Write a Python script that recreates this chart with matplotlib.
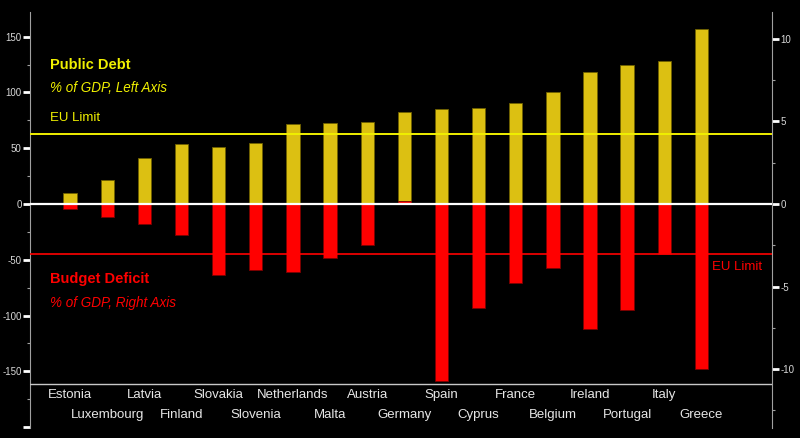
"""
Euro area public debt vs budget deficit, 2012-style black chart
"""

import numpy as np
import matplotlib.pyplot as plt
from matplotlib.ticker import MultipleLocator, FuncFormatter

plt.rcParams['axes.unicode_minus'] = False

# ---------------------------------------------------------------------------- #
# Data
# ---------------------------------------------------------------------------- #
countries = ['Estonia', 'Luxembourg', 'Latvia', 'Finland', 'Slovakia',
             'Slovenia', 'Netherlands', 'Malta', 'Austria', 'Germany',
             'Spain', 'Cyprus', 'France', 'Belgium', 'Ireland', 'Portugal',
             'Italy', 'Greece']
debt = [10.1, 21.2, 40.9, 53.4, 51.3, 54.6, 71.6, 72.5, 73.7, 82.4,
        84.8, 86.2, 90.7, 100.3, 118.2, 124.2, 127.8, 157.0]
deficit = [-0.3, -0.8, -1.2, -1.9, -4.3, -4.0, -4.1, -3.3, -2.5, 0.2,
           -10.7, -6.3, -4.8, -3.9, -7.6, -6.4, -3.0, -10.0]
debt_limit = 63.0
deficit_limit = -3.0

# ---------------------------------------------------------------------------- #
# Style options
# ---------------------------------------------------------------------------- #
bg = 'black'
yellow_bar = '#dcc012'
yellow_txt = '#f0f000'
red = '#ff0000'
grey = '#c8c8c8'
font = 'Liberation Sans'

left_lims = (-200.8, 172.1)
scale = 14.8  # left units per right unit
right_lims = (left_lims[0] / scale, left_lims[1] / scale)

fig = plt.figure(figsize=(8, 4.38), dpi=100, facecolor=bg)
ax = fig.add_axes([0.0375, 0.0228, 0.9275, 0.9498])
ax2 = ax.twinx()
for a in (ax, ax2):
    a.set_facecolor('none')
    for s in ['top', 'bottom']:
        a.spines[s].set_visible(False)
    a.spines['left'].set_color('#a0a0a0')
    a.spines['right'].set_color('#a0a0a0')
    a.spines['left'].set_visible(a is ax)
    a.spines['right'].set_visible(a is ax2)
ax.set_facecolor(bg)

x = np.arange(len(countries))
width = 0.36

ax.bar(x, debt, width, color=yellow_bar, edgecolor='#6e6000', linewidth=0.6, zorder=1)
ax2.bar(x, deficit, width, color=red, edgecolor='#7a0000', linewidth=0.6, zorder=2)

ax.set_xlim(-1.08, 18.9)
ax.set_ylim(*left_lims)
ax2.set_ylim(*right_lims)

# horizontal reference lines
ax2.axhline(0, color='white', lw=1.6, zorder=4)
ax.axhline(debt_limit, color=yellow_txt, lw=1.4, zorder=4)
ax2.axhline(deficit_limit, color=red, lw=1.2, zorder=4)
ax.axhline(-161.4, color=grey, lw=1.0, zorder=4)

# ticks
ax.set_xticks([])
ax.yaxis.set_major_locator(MultipleLocator(50))
ax.yaxis.set_minor_locator(MultipleLocator(25))
ax.yaxis.set_major_formatter(FuncFormatter(lambda v, p: '' if v < -175 else f'{v:.0f}'))
ax2.yaxis.set_major_locator(MultipleLocator(5))
ax2.yaxis.set_minor_locator(MultipleLocator(2.5))
ax2.yaxis.set_major_formatter(FuncFormatter(lambda v, p: f'{v:.0f}'))
for a in (ax, ax2):
    a.tick_params(axis='y', which='major', colors='white', labelcolor='#d8d8d8',
                  length=5, width=2, labelsize=7, pad=1)
    a.tick_params(axis='y', which='minor', colors='#a0a0a0', length=2, width=0.8)
    for lab in a.get_yticklabels():
        lab.set_family(font)

# country labels, staggered in two rows
for i, name in enumerate(countries):
    y = -171.5 if i % 2 == 0 else -189.5
    ax.text(i, y, name, ha='center', va='center', color='#e6e6e6',
            fontsize=9.5, family=font)

# annotations
ax.text(-0.54, 124.7, 'Public Debt', color=yellow_txt, fontsize=10.5,
        fontweight='bold', family=font, va='center')
ax.text(-0.54, 104.3, '% of GDP, Left Axis', color=yellow_txt, fontsize=9.75,
        style='italic', family=font, va='center')
ax.text(-0.54, 77, 'EU Limit', color=yellow_txt, fontsize=9.5,
        family=font, va='center')
ax.text(-0.54, -67.5, 'Budget Deficit', color=red, fontsize=10.5,
        fontweight='bold', family=font, va='center')
ax.text(-0.54, -88.5, '% of GDP, Right Axis', color=red, fontsize=9.75,
        style='italic', family=font, va='center')
ax2.text(17.96, -3.8, 'EU Limit', color=red, fontsize=9.5,
         family=font, va='center', ha='center')

fig.savefig('out.png', dpi=100, facecolor=bg)
plt.close()
